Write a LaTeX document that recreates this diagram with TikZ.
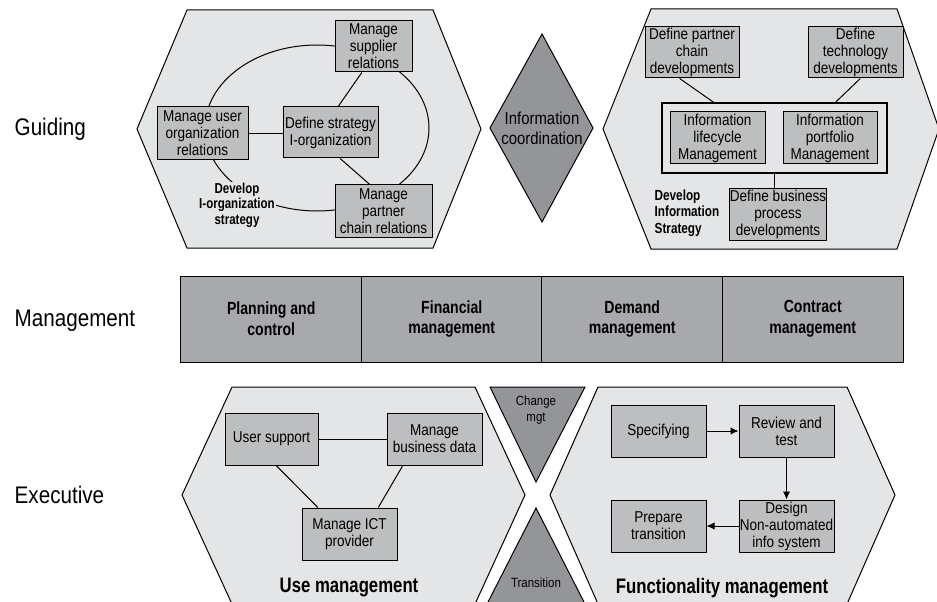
\documentclass[tikz,border=0pt]{standalone}
\usepackage{fontspec}
\setmainfont{Liberation Sans}[FakeStretch=0.86]
\newfontfamily\cfam{Liberation Sans}[FakeStretch=0.8]
\usetikzlibrary{calc,arrows.meta}
\definecolor{hexfill}{HTML}{E4E5E6}
\definecolor{boxfill}{HTML}{BCBEC0}
\definecolor{tabfill}{HTML}{A7A9AC}
\definecolor{darkfill}{HTML}{939598}
\begin{document}
\begin{tikzpicture}[x=0.75pt,y=-0.75pt,
  hex/.style={draw=black,fill=hexfill,line width=0.75pt,line join=miter},
  dark/.style={draw=black,fill=darkfill,line width=0.75pt},
  box/.style={draw=black,fill=boxfill,line width=0.75pt,align=center,inner sep=0pt,
    minimum width=71.25pt,minimum height=39pt,font=\fontsize{11.8}{12.75}\selectfont},
  frm/.style={draw=black,fill=hexfill,line width=1.5pt,inner sep=0pt},
  cell/.style={draw=black,fill=tabfill,line width=0.75pt,align=center,inner sep=0pt,
    minimum width=135.4pt,minimum height=64.5pt,font=\cfam\bfseries\fontsize{13.2}{15.5}\selectfont},
  side/.style={anchor=west,font=\fontsize{18}{20}\selectfont},
  btxt/.style={font=\cfam\bfseries\fontsize{10.8}{11.5}\selectfont},
  title/.style={font=\cfam\bfseries\fontsize{15.7}{18}\selectfont},
  small/.style={align=center,font=\fontsize{10}{12.5}\selectfont},
  lnk/.style={draw=black,line width=0.75pt},
  arr/.style={lnk,-{Latex[length=6pt,width=5.5pt]}}
]
\useasboundingbox (0,0) rectangle (937,602);

% side labels
\node[side] (lg) at (10,129) {Guiding};
\node[side] (lm) at (10,321) {Management};
\node[side] (le) at (10,495) {Executive};

% ---------- top-left hexagon ----------
\draw[hex] (187,10) -- (433,10) -- (481,129) -- (433,248) -- (187,248) -- (137,129) -- cycle;
\draw[lnk] (317,128) ellipse [x radius=84pt, y radius=62.25pt];
\node[btxt,align=center,fill=hexfill,inner sep=1pt] (dio) at (237,205) {Develop\\I-organization\\strategy};
\node[box,minimum width=57.75pt,minimum height=38.25pt] (sup) at (373.5,46.5) {Manage\\supplier\\relations};
\node[box,minimum width=68.25pt,minimum height=39.75pt] (usr) at (202.5,133.5) {Manage user\\organization\\relations};
\node[box,minimum height=38.25pt] (def) at (330.5,132.5) {Define strategy\\I-organization};
\node[box,minimum width=72.75pt] (par) at (383.5,211) {Manage\\partner\\chain relations};
\draw[lnk] (usr.east) -- (usr.east -| def.west);
\draw[lnk] ($(def.north west)!0.58!(def.north east)$) -- ($(sup.south west)!0.35!(sup.south east)$);
\draw[lnk] ($(def.south west)!0.6!(def.south east)$) -- ($(par.north west)!0.36!(par.north east)$);

% ---------- diamond ----------
\draw[dark] (542,34) -- (593,128) -- (542,222) -- (490,128) -- cycle;
\node[align=center,font=\fontsize{13}{15}\selectfont] (ic) at (542,128) {Information\\coordination};

% ---------- top-right hexagon ----------
\draw[hex] (651,9) -- (897,9) -- (939,129) -- (897,249) -- (651,249) -- (603,129) -- cycle;
\node[box,minimum width=70.5pt,minimum height=38.25pt] (dpc) at (692,52.5) {Define partner\\chain\\developments};
\node[box,minimum height=38.25pt] (dtd) at (855.5,52.5) {Define\\technology\\developments};
\node[frm,minimum width=168.75pt,minimum height=52.5pt] (frame) at (774.5,138) {};
\node[box] (ilm) at (717.5,138) {Information\\lifecycle\\Management};
\node[box,minimum width=70.5pt] (ipm) at (830,138) {Information\\portfolio\\Management};
\node[box,minimum width=70.5pt,minimum height=38.25pt] (dbp) at (778,214.5) {Define business\\process\\developments};
\node[btxt,align=left,anchor=west,font=\cfam\bfseries\fontsize{11}{12.4}\selectfont] (dis) at (650,213) {Develop\\Information\\Strategy};
\draw[lnk] ($(dpc.south west)!0.37!(dpc.south east)$) -- ($(frame.north west)!0.23!(frame.north east)$);
\draw[lnk] ($(dtd.south west)!0.55!(dtd.south east)$) -- ($(frame.north west)!0.77!(frame.north east)$);
\draw[lnk] (frame.south) -- (frame.south |- dbp.north);

% ---------- management table ----------
\node[cell] (pc) at (271.25,319) {Planning and\\control};
\node[cell] (fm) at (451.75,319) {Financial\\management};
\node[cell] (dm) at (632.25,319) {Demand\\management};
\node[cell] (cm) at (812.75,319) {Contract\\management};

% ---------- bottom-left hexagon ----------
\draw[hex] (232,387) -- (475,387) -- (525,495) -- (475,604) -- (232,604) -- (182,495) -- cycle;
\node[box,minimum width=69.75pt] (us) at (271.5,439) {User support};
\node[box] (mbd) at (434.5,439) {Manage\\business data};
\node[box] (ict) at (349.5,534) {Manage ICT\\provider};
\draw[lnk] (us.east) -- (mbd.west);
\draw[lnk] ($(us.south west)!0.55!(us.south east)$) -- ($(ict.north west)!0.17!(ict.north east)$);
\draw[lnk] ($(mbd.south west)!0.17!(mbd.south east)$) -- ($(ict.north west)!0.8!(ict.north east)$);
\node[title] (um) at (349,588) {Use management};

% ---------- triangles ----------
\draw[dark] (490,387) -- (585,387) -- (536,482) -- cycle;
\node[small] (chg) at (536,410) {Change\\mgt};
\draw[dark] (536,508) -- (585,604) -- (487,604) -- cycle;
\node[small] (tr) at (536,583) {Transition};

% ---------- bottom-right hexagon ----------
\draw[hex] (598,387) -- (847,387) -- (895,495) -- (847,604) -- (598,604) -- (550,495) -- cycle;
\node[box] (spec) at (658.5,431) {Specifying};
\node[box] (rev) at (786.5,431) {Review and\\test};
\node[box] (des) at (786.5,526) {Design\\Non-automated\\info system};
\node[box] (prep) at (658.5,526) {Prepare\\transition};
\draw[arr] (spec) -- (rev);
\draw[arr] (rev) -- (des);
\draw[arr] (des) -- (prep);
\node[title] (fmg) at (722,588) {Functionality management};
\end{tikzpicture}
\end{document}
